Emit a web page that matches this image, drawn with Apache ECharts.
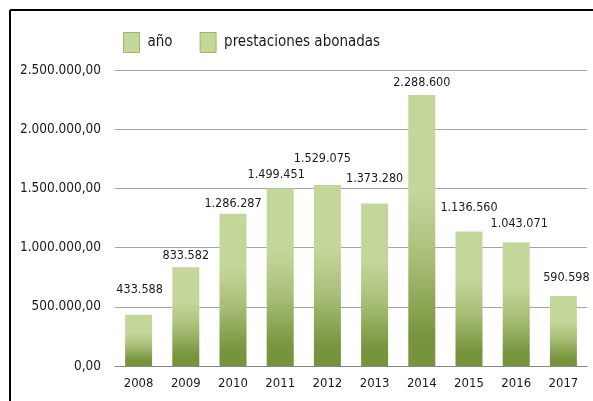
<!DOCTYPE html>
<html>
<head>
<meta charset="utf-8">
<script src="https://cdn.jsdelivr.net/npm/echarts@6/dist/echarts.min.js"></script>
<style>
  html, body { margin: 0; padding: 0; background: #fff; }
  #chart { width: 593px; height: 401px; }
</style>
</head>
<body>
<div id="chart"></div>
<script>
// datos
const years = ['2008', '2009', '2010', '2011', '2012', '2013', '2014', '2015', '2016', '2017'];
const prestaciones = [433588, 833582, 1286287, 1499451, 1529075, 1373280, 2288600, 1136560, 1043071, 590598];
const yTicks = [0, 500000, 1000000, 1500000, 2000000, 2500000];

// desplazamiento de las etiquetas (como en la hoja original)
const labelShift = [[1, -18], [0, -5], [0, -3], [-4, -7], [-5, -20], [0, -18], [0, -6], [0, -17], [3, -12], [3, -12]];

const font = '"DejaVu Sans Condensed", "DejaVu Sans", sans-serif';
const light = '#c4d79b';
const dark = '#77933c';

// formato 2.500.000,00
function fmtEs(v, dec) {
  const parts = v.toFixed(dec).split('.');
  const ent = parts[0].replace(/\B(?=(\d{3})+(?!\d))/g, '.');
  return dec ? ent + ',' + parts[1] : ent;
}

const barColor = new echarts.graphic.LinearGradient(0, 0, 0, 1, [
  { offset: 0, color: light },
  { offset: 0.35, color: light },
  { offset: 0.6, color: '#a9bf78' },
  { offset: 0.9, color: dark },
  { offset: 1, color: dark },
]);

const chart = echarts.init(document.getElementById('chart'));

const option = {
  animation: false,
  textStyle: { fontFamily: font },
  graphic: [
    { type: 'line', shape: { x1: 10, y1: 10, x2: 610, y2: 10 }, style: { stroke: '#000', lineWidth: 2 } },
    { type: 'line', shape: { x1: 10, y1: 10, x2: 10, y2: 410 }, style: { stroke: '#000', lineWidth: 2 } },
  ],
  legend: {
    left: 118,
    top: 27,
    itemWidth: 16,
    itemHeight: 20,
    itemGap: 27,
    icon: 'rect',
    textStyle: { fontSize: 15, color: '#1a1a1a', fontFamily: font, padding: [0, 0, 0, 3] },
    data: [
      { name: 'año', itemStyle: { color: light, borderColor: '#9bbb59', borderWidth: 1 } },
      { name: 'prestaciones abonadas', itemStyle: { color: light, borderColor: '#9bbb59', borderWidth: 1 } },
    ],
  },
  grid: { left: 115, right: 6, top: 70, bottom: 35 },
  xAxis: {
    type: 'category',
    data: years,
    axisTick: { show: false },
    axisLine: { lineStyle: { color: '#868686' } },
    axisLabel: { color: '#1a1a1a', fontSize: 13, margin: 11 },
  },
  yAxis: {
    type: 'value',
    min: yTicks[0],
    max: yTicks[yTicks.length - 1],
    interval: yTicks[1] - yTicks[0],
    axisLine: { show: false },
    axisTick: { show: false },
    splitLine: { lineStyle: { color: '#a6a6a6' } },
    axisLabel: {
      color: '#1a1a1a',
      fontSize: 13.5,
      margin: 14,
      formatter: (v) => fmtEs(v, 2),
    },
  },
  series: [
    {
      name: 'año',
      type: 'bar',
      data: [],
      itemStyle: { color: light },
    },
    {
      name: 'prestaciones abonadas',
      type: 'bar',
      barWidth: 27,
      barGap: '-100%',
      itemStyle: { color: barColor },
      data: prestaciones.map((v, i) => ({
        value: v,
        label: { offset: labelShift[i] },
      })),
      label: {
        show: true,
        position: 'top',
        distance: 0,
        color: '#1a1a1a',
        fontSize: 12.5,
        formatter: (p) => fmtEs(p.value, 0),
      },
    },
  ],
};

chart.setOption(option);
</script>
</body>
</html>
